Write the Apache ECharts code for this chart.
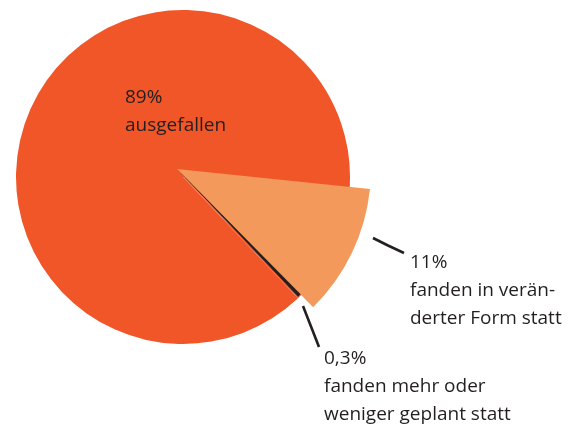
<!DOCTYPE html>
<html>
<head>
<meta charset="utf-8">
<script src="https://cdn.jsdelivr.net/npm/echarts@6/dist/echarts.min.js"></script>
<style>
  html, body { margin: 0; padding: 0; background: #fff; }
  #chart { width: 588px; height: 427px; }
</style>
</head>
<body>
<div id="chart"></div>
<script>
const categories = ['ausgefallen', 'fanden in veränderter Form statt', 'fanden mehr oder weniger geplant statt']
const values = [89, 11, 0.3]
const valueLabels = ['89%', '11%', '0,3%']
const labelTexts = [['ausgefallen'], ['fanden in verän-', 'derter Form statt'], ['fanden mehr oder', 'weniger geplant statt']]

const colors = ['#F05627', '#F2995B', '#231F20']
// label placement (left/top of the text block + leader line)
const labelPos = [
    { x: 125, y: 84 },
    { x: 410, y: 249, line: [[373, 238], [388, 245.5], [404, 253]] },
    { x: 324, y: 345, line: [[303, 306], [311, 326.5], [319, 347]] }
]

const chart = echarts.init(document.getElementById('chart'))

function sliceData(visible) {
    return values.map((v, i) => ({
        name: categories[i],
        value: v,
        itemStyle: { color: visible.indexOf(i) >= 0 ? colors[i] : 'transparent' },
        labelLine: { show: !!labelPos[i].line }
    }))
}

const common = {
    type: 'pie',
    startAngle: 313.5,
    clockwise: true,
    avoidLabelOverlap: false,
    silent: true,
    emphasis: { disabled: true },
    itemStyle: { borderWidth: 0 }
}

const option = {
    animation: false,
    series: [
        {
            // the whole disc in the main colour
            ...common,
            center: [183, 177],
            radius: 167,
            data: values.map((v, i) => ({ name: categories[i], value: v, itemStyle: { color: colors[0] } })),
            label: { show: false },
            labelLine: { show: false }
        },
        {
            // the larger 11% wedge
            ...common,
            center: [177, 169],
            radius: 194,
            data: sliceData([1]),
            label: {
                show: true,
                position: 'outside',
                color: '#231F20',
                fontFamily: 'Open Sans',
                fontSize: 19,
                lineHeight: 28,
                formatter: p => valueLabels[p.dataIndex] + '\n' + labelTexts[p.dataIndex].join('\n')
            },
            labelLine: {
                show: true,
                lineStyle: { color: '#231F20', width: 2.6 }
            },
            labelLayout: function (params) {
                const p = labelPos[params.dataIndex]
                return {
                    x: p.x,
                    y: p.y,
                    align: 'left',
                    verticalAlign: 'top',
                    labelLinePoints: p.line
                }
            }
        },
        {
            // the thin 0,3% wedge
            ...common,
            center: [177, 169],
            radius: 176,
            data: sliceData([2]),
            label: { show: false },
            labelLine: { show: false }
        }
    ]
}
chart.setOption(option)
window.addEventListener('resize', () => {
    chart.resize()
})
</script>
</body>
</html>
